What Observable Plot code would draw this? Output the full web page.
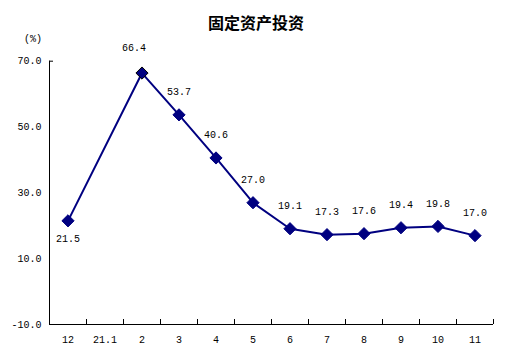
<!DOCTYPE html>
<html>
<head>
<meta charset="utf-8">
<script src="https://cdn.jsdelivr.net/npm/d3@7"></script>
<script src="https://cdn.jsdelivr.net/npm/@observablehq/plot@0.6"></script>
<style>
  html, body { margin: 0; padding: 0; background: #fff; }
  #wrap { width: 512px; }
  #title { height: 20px; padding-top: 12px; line-height: 20px; text-align: center;
           font-family: "Noto Sans CJK SC", sans-serif; font-weight: bold; font-size: 16px; color: #000; }
</style>
</head>
<body>
<div id="wrap">
  <div id="title">固定资产投资</div>
  <div id="chart"></div>
</div>
<script>
const categories = ["12", "21.1", "2", "3", "4", "5", "6", "7", "8", "9", "10", "11"];
const values = [21.5, null, 66.4, 53.7, 40.6, 27.0, 19.1, 17.3, 17.6, 19.4, 19.8, 17.0];
const yTicks = [-10, 10, 30, 50, 70];
const yUnit = "(%)";

const data = categories.map((c, i) => ({i, c, v: values[i]})).filter(d => d.v != null);
const boundaries = categories.map((c, i) => i + 0.5);
const font = "Liberation Mono, DejaVu Sans Mono, monospace";
const navy = "#000080";
const fmt = d => d.v.toFixed(1);

const chart = Plot.plot({
  width: 512,
  height: 325,
  marginLeft: 49,
  marginRight: 19,
  marginTop: 28.7,
  marginBottom: 33,
  style: {fontFamily: font, fontSize: "10px", color: "#000", background: "#fff"},
  x: {domain: [-0.5, categories.length - 0.5], axis: null},
  y: {domain: [-10, 70], axis: null},
  marks: [
    Plot.axisY({ticks: yTicks, tickFormat: d => d.toFixed(1), tickSize: 0, tickPadding: 8, label: null, fontSize: 10}),
    Plot.axisY({ticks: [70], tickFormat: () => "", tickSize: -4, label: null}),
    Plot.axisX({ticks: categories.map((c, i) => i), tickFormat: i => categories[i], tickSize: 0, tickPadding: 11, label: null}),
    Plot.axisX({ticks: boundaries, tickFormat: () => "", tickSize: -5, label: null}),
    Plot.ruleX([-0.5], {stroke: "#000"}),
    Plot.ruleY([-10], {stroke: "#000"}),
    Plot.text([yUnit], {frameAnchor: "top-left", dx: -16.5, dy: -26.7, textAnchor: "middle", fontSize: 10}),
    Plot.line(data, {x: "i", y: "v", stroke: navy, strokeWidth: 2}),
    Plot.dot(data, {x: "i", y: "v", symbol: "diamond2", r: 5.5, fill: navy, stroke: d => d.c === "2" ? "#000" : navy, strokeWidth: 1}),
    Plot.text(data.filter(d => d.c !== "12" && d.c !== "2"), {x: "i", y: "v", text: fmt, dy: -23, fontSize: 10}),
    Plot.text(data.filter(d => d.c === "2"), {x: "i", y: "v", text: fmt, dy: -25, dx: -8, fontSize: 10}),
    Plot.text(data.filter(d => d.c === "12"), {x: "i", y: "v", text: fmt, dy: 18, fontSize: 10})
  ]
});
document.getElementById("chart").appendChild(chart);
</script>
</body>
</html>
